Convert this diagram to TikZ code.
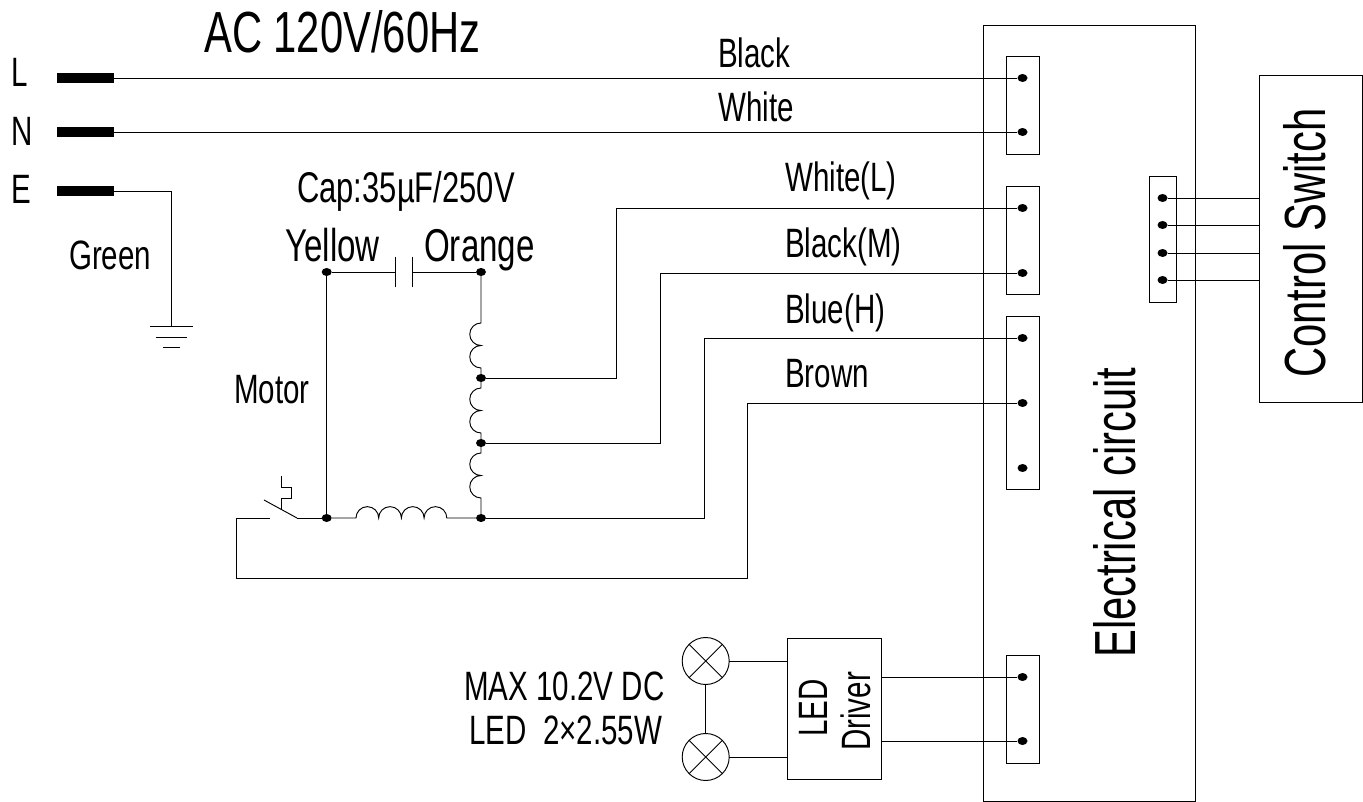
\documentclass[tikz,border=0pt]{standalone}
\usepackage{fontspec}
\setmainfont[FakeStretch=0.72]{Liberation Sans}
\usetikzlibrary{shapes.geometric}
\tikzset{
  wire/.style={line width=0.95pt,black},
  box/.style={draw,line width=0.95pt,inner sep=0pt,outer sep=0pt},
  bar/.style={fill=black,inner sep=0pt,outer sep=0pt,minimum width=57pt,minimum height=10pt},
  pin/.style={ellipse,fill=black,inner sep=0pt,minimum width=10pt,minimum height=8pt},
  lamp/.style={circle,draw,line width=0.95pt,inner sep=0pt,minimum size=47pt,outer sep=0pt},
  lab/.style={font=\fontsize{41}{41}\selectfont,inner sep=0pt,anchor=base west},
  midlab/.style={font=\fontsize{46}{46}\selectfont,inner sep=0pt,anchor=base west},
  biglab/.style={font=\fontsize{58}{58}\selectfont,inner sep=0pt,anchor=base west}
}
\begin{document}
\begin{tikzpicture}[x=1pt,y=-1pt]
\useasboundingbox (0,0) rectangle (1363,802);
\node [box,minimum width=212pt,minimum height=776pt] (circuit) at (1089,413) {};
\node [box,minimum width=103pt,minimum height=327pt] (switch) at (1310.5,238.5) {};
\node [box,minimum width=33pt,minimum height=98pt] (termA) at (1022.5,105) {};
\node [box,minimum width=33pt,minimum height=108pt] (termB) at (1022.5,240) {};
\node [box,minimum width=33pt,minimum height=173pt] (termC) at (1022.5,402.5) {};
\node [box,minimum width=33pt,minimum height=108pt] (termD) at (1022.5,709) {};
\node [box,minimum width=27pt,minimum height=126pt] (termE) at (1162.5,239) {};
\node [box,minimum width=94pt,minimum height=141pt] (driver) at (834,708.5) {};
\node [bar] (barL) at (85.5,78) {};
\node [bar] (barN) at (85.5,132) {};
\node [bar] (barE) at (85.5,191) {};
\node [pin] (pL) at (1022.5,78) {};
\node [pin] (pN) at (1022.5,132) {};
\node [pin] (pLow) at (1022.5,208) {};
\node [pin] (pMid) at (1022.5,273) {};
\node [pin] (pHigh) at (1022.5,338) {};
\node [pin] (pBrown) at (1022.5,403) {};
\node [pin] (pFree) at (1022.5,468) {};
\node [pin] (pLedA) at (1022.5,677) {};
\node [pin] (pLedB) at (1022.5,741) {};
\foreach \n/\y in {A/198,B/225,C/253,D/280}
  \node [pin] (pS\n) at (1162.5,\y) {};
\node [pin] (yellow) at (326.7,272) {};
\node [pin] (orange) at (481,272) {};
\node [pin] (tapA) at (481,378) {};
\node [pin] (tapB) at (481,443) {};
\node [pin] (orangeEnd) at (481,518) {};
\node [pin] (yellowEnd) at (326.7,518) {};
\node [lamp] (lampA) at (705.7,661) {};
\node [lamp] (lampB) at (705.7,757) {};
\coordinate (gnd) at (171.5,326);
\coordinate (capA) at (395.7,272);
\coordinate (capB) at (412,272);
\coordinate (bladeEnd) at (297,518);
\coordinate (bladeTip) at (264,500);
\coordinate (loopEnd) at (270,518);
\coordinate (heat) at (281,509);

\draw [wire] (barL) -- (pL);
\draw [wire] (barN) -- (pN);
\draw [wire] (barE) -| (gnd);
\draw [wire] (150,326) -- (193,326);
\draw [wire] (156,337) -- (187,337);
\draw [wire] (163,347) -- (180,347);

\draw [wire] (yellow) -- (capA);
\draw [wire] (orange) -- (capB);
\draw [wire] (395.7,257) -- (395.7,287);
\draw [wire] (412,257) -- (412,287);
\draw [wire] (yellow) -- (yellowEnd);
\draw [wire] (bladeEnd) -- (yellowEnd);
\draw [wire] (bladeEnd) -- (bladeTip);
\draw [wire] (heat) -- (281,498) -- (291,498) -- (291,487) -- (281,487) -- (281,476);
\draw [wire] (loopEnd) -- (236,518) -- (236,578) -- (747,578) |- (pBrown);

\draw [wire] (yellowEnd) -- (356,518)
  arc (-180:0:11.35) arc (-180:0:11.35) arc (-180:0:11.35) arc (-180:0:11.35) -- (orangeEnd);
\draw [wire] (orange) -- (481,323) arc (-90:-270:11.25) arc (-90:-270:11.25) -- (tapA);
\draw [wire] (tapA) -- (481,388) arc (-90:-270:11.25) arc (-90:-270:11.25) -- (tapB);
\draw [wire] (tapB) -- (481,453) arc (-90:-270:11.25) arc (-90:-270:11.25) -- (orangeEnd);

\draw [wire] (tapA) -- (616,378) |- (pLow);
\draw [wire] (tapB) -- (660,443) |- (pMid);
\draw [wire] (orangeEnd) -- (704,518) |- (pHigh);

\foreach \n/\y in {A/198,B/225,C/253,D/280}
  \draw [wire] (pS\n) -- (switch.west |- 0,\y);

\draw [wire] (lampA) -- (lampB);
\draw [wire] (lampA) -- (driver.west |- lampA);
\draw [wire] (lampB) -- (driver.west |- lampB);
\draw [wire] (lampA.45) -- (lampA.225);
\draw [wire] (lampA.135) -- (lampA.315);
\draw [wire] (lampB.45) -- (lampB.225);
\draw [wire] (lampB.135) -- (lampB.315);
\draw [wire] (driver.east |- pLedA) -- (pLedA);
\draw [wire] (driver.east |- pLedB) -- (pLedB);

\node [biglab] (title) at (204,53) {AC 120V/60Hz};
\node [lab] (labL) at (11,87) {L};
\node [lab] (labN) at (11,146) {N};
\node [lab] (labE) at (11,204) {E};
\node [lab] (labGreen) at (69,270) {Green};
\node [lab] (labBlack) at (718,68) {Black};
\node [lab] (labWhite) at (718,122) {White};
\node [lab,font=\fontsize{43}{43}\selectfont] (labCap) at (297,203) {Cap:35µF/250V};
\node [midlab] (labYellow) at (285,262) {Yellow};
\node [midlab] (labOrange) at (424,262) {Orange};
\node [lab] (labLow) at (785,192) {White(L)};
\node [lab] (labMid) at (785,258) {Black(M)};
\node [lab] (labHigh) at (785,324) {Blue(H)};
\node [lab] (labBrown) at (785,388) {Brown};
\node [lab] (labMotor) at (234,403) {Motor};
\node [lab] (labMax) at (464,700) {MAX 10.2V DC};
\node [lab] (labLed) at (469,744) {LED\ \ 2×2.55W};
\node [biglab,rotate=90] (labCircuit) at (1135,658) {Electrical circuit};
\node [biglab,rotate=90] (labSwitch) at (1325,378) {Control Switch};
\node [lab,rotate=90] (labDrvA) at (827,737) {LED};
\node [lab,rotate=90] (labDrvB) at (870,751) {Driver};
\end{tikzpicture}
\end{document}
